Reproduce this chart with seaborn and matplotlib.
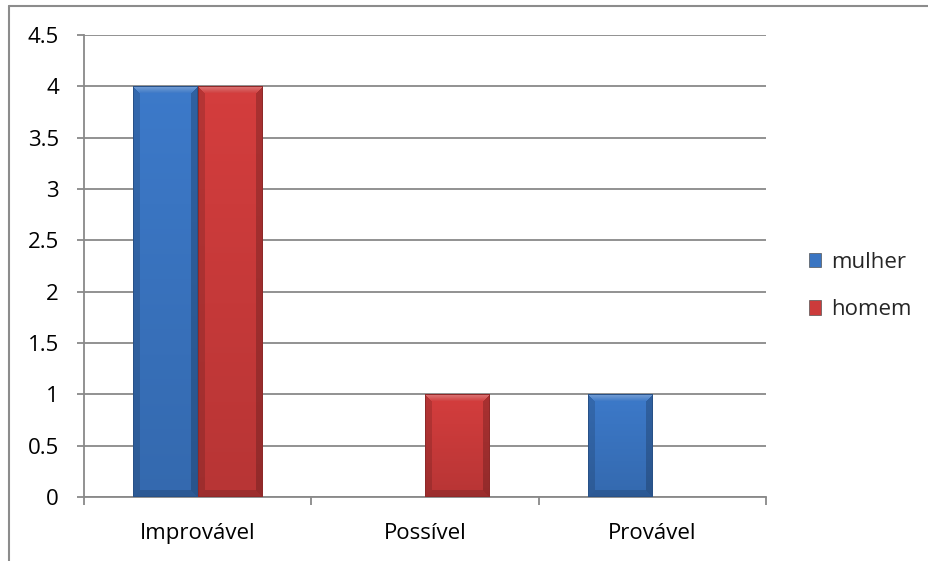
import numpy as np
import pandas as pd
import matplotlib
matplotlib.use("Agg")
import matplotlib.pyplot as plt
from matplotlib.lines import Line2D
from matplotlib.patches import Patch
from matplotlib.colors import to_rgb
import seaborn as sns

# Data
categories = ["Improvável", "Possível", "Provável"]
mulher = [4, 0, 1]
homem = [4, 1, 0]
series_names = ["mulher", "homem"]
yticks = [0, 0.5, 1, 1.5, 2, 2.5, 3, 3.5, 4, 4.5]
ytick_labels = ["0", "0.5", "1", "1.5", "2", "2.5", "3", "3.5", "4", "4.5"]

df = pd.DataFrame({
    "categoria": categories * 2,
    "serie": [series_names[0]] * len(categories) + [series_names[1]] * len(categories),
    "valor": mulher + homem,
})

palette = {"mulher": "#3A75C2", "homem": "#CC3B3B"}

sns.set_theme(style="white")
plt.rcParams["font.family"] = ["Open Sans", "DejaVu Sans"]
FS = 16

W, H = 929, 561
fig = plt.figure(figsize=(W / 100, H / 100), dpi=100)
ax = fig.add_axes([84 / W, 1 - 497 / H, (766 - 84) / W, (497 - 35) / H])

sns.barplot(data=df, x="categoria", y="valor", hue="serie", order=categories,
            hue_order=series_names, palette=palette, width=0.57, saturation=1,
            ax=ax, legend=False, zorder=3)

ax.set_ylim(0, 4.5)
ax.set_xlim(-0.5, len(categories) - 0.5)
ax.set_yticks(yticks)
ax.set_yticklabels(ytick_labels)
ax.set_xlabel("")
ax.set_ylabel("")

grid_c = "#898989"
for y in yticks:
    ax.axhline(y, color=grid_c, lw=1.3, zorder=1)

for s in ["top", "right"]:
    ax.spines[s].set_visible(False)
for s in ["left", "bottom"]:
    ax.spines[s].set_color(grid_c)
    ax.spines[s].set_linewidth(1.3)

ax.tick_params(axis="y", direction="out", length=5, width=1.3, color=grid_c,
               pad=13, labelsize=FS, labelcolor="black", left=True)
ax.set_xticks(np.arange(-0.5, len(categories)), minor=True)
ax.tick_params(axis="x", which="minor", direction="out", length=6, width=1.3,
               color=grid_c, bottom=True)
ax.tick_params(axis="x", which="major", length=0, pad=18.5, labelsize=FS,
               labelcolor="black")


def bevel_image(color, wpx, hpx, b=7):
    """RGBA array of a bar with a bevelled edge and soft vertical shading."""
    base = np.array(to_rgb(color))
    ys = np.arange(hpx)[:, None]
    xs = np.arange(wpx)[None, :]
    t = ys / max(hpx - 1, 1)
    img = np.zeros((hpx, wpx, 4))
    body = base * (1.04 - 0.14 * t)[..., None] * np.ones((1, wpx, 1))
    img[..., :3] = body
    dl = np.broadcast_to(xs, (hpx, wpx))
    dr = np.broadcast_to(wpx - 1 - xs, (hpx, wpx))
    dt = np.broadcast_to(ys, (hpx, wpx))
    db = np.broadcast_to(hpx - 1 - ys, (hpx, wpx))
    d = np.stack([dt, dl, dr, db])
    m = d.min(axis=0)
    which = d.argmin(axis=0)
    edge = m < b
    top = edge & (which == 0)
    left = edge & (which == 1)
    right = edge & (which == 2)
    bot = edge & (which == 3)
    # top bevel fades from light at the rim to the body colour
    tt = (dt / b)[..., None]
    light = base + (1 - base) * 0.30
    img[top, :3] = (light * (1 - tt) + base * 1.02 * tt)[top]
    img[left, :3] = img[left, :3] * 0.86
    img[right, :3] = img[right, :3] * 0.80
    img[bot, :3] = img[bot, :3] * 0.85
    outline = m < 1
    img[outline, :3] = base * 0.7
    img[..., :3] = np.clip(img[..., :3], 0, 1)
    img[..., 3] = 1.0
    return img


fig.canvas.draw()
for patch in list(ax.patches):
    x0, y0 = patch.get_x(), patch.get_y()
    w, h = patch.get_width(), patch.get_height()
    patch.set_visible(False)
    if h <= 0:
        continue
    (px0, py0), (px1, py1) = ax.transData.transform([(x0, y0), (x0 + w, y0 + h)])
    wpx, hpx = int(round(px1 - px0)), int(round(py1 - py0))
    img = bevel_image(patch.get_facecolor(), wpx, hpx)
    ax.imshow(img, extent=(x0, x0 + w, y0, y0 + h), origin="upper",
              aspect="auto", interpolation="nearest", zorder=4)
ax.set_xlim(-0.5, len(categories) - 0.5)
ax.set_ylim(0, 4.5)

handles = [Patch(facecolor=palette[n], edgecolor="#555555", linewidth=0.5, label=n)
           for n in series_names]
fig.legend(handles=handles, loc="center left", bbox_to_anchor=(809 / W, 1 - 286 / H),
           frameon=False, fontsize=FS, handlelength=0.55, handleheight=0.6,
           handletextpad=0.45, labelspacing=1.2, borderpad=0, borderaxespad=0)

# Chart frame
frame_c = "#8C8C8C"
fig.add_artist(Line2D([8.5 / W, 8.5 / W], [0, 1 - 5.5 / H], transform=fig.transFigure,
                      color=frame_c, lw=1.5))
fig.add_artist(Line2D([8.5 / W, 1], [1 - 5.5 / H, 1 - 5.5 / H], transform=fig.transFigure,
                      color=frame_c, lw=1.5))

fig.savefig("out.png", dpi=100, facecolor="white")
